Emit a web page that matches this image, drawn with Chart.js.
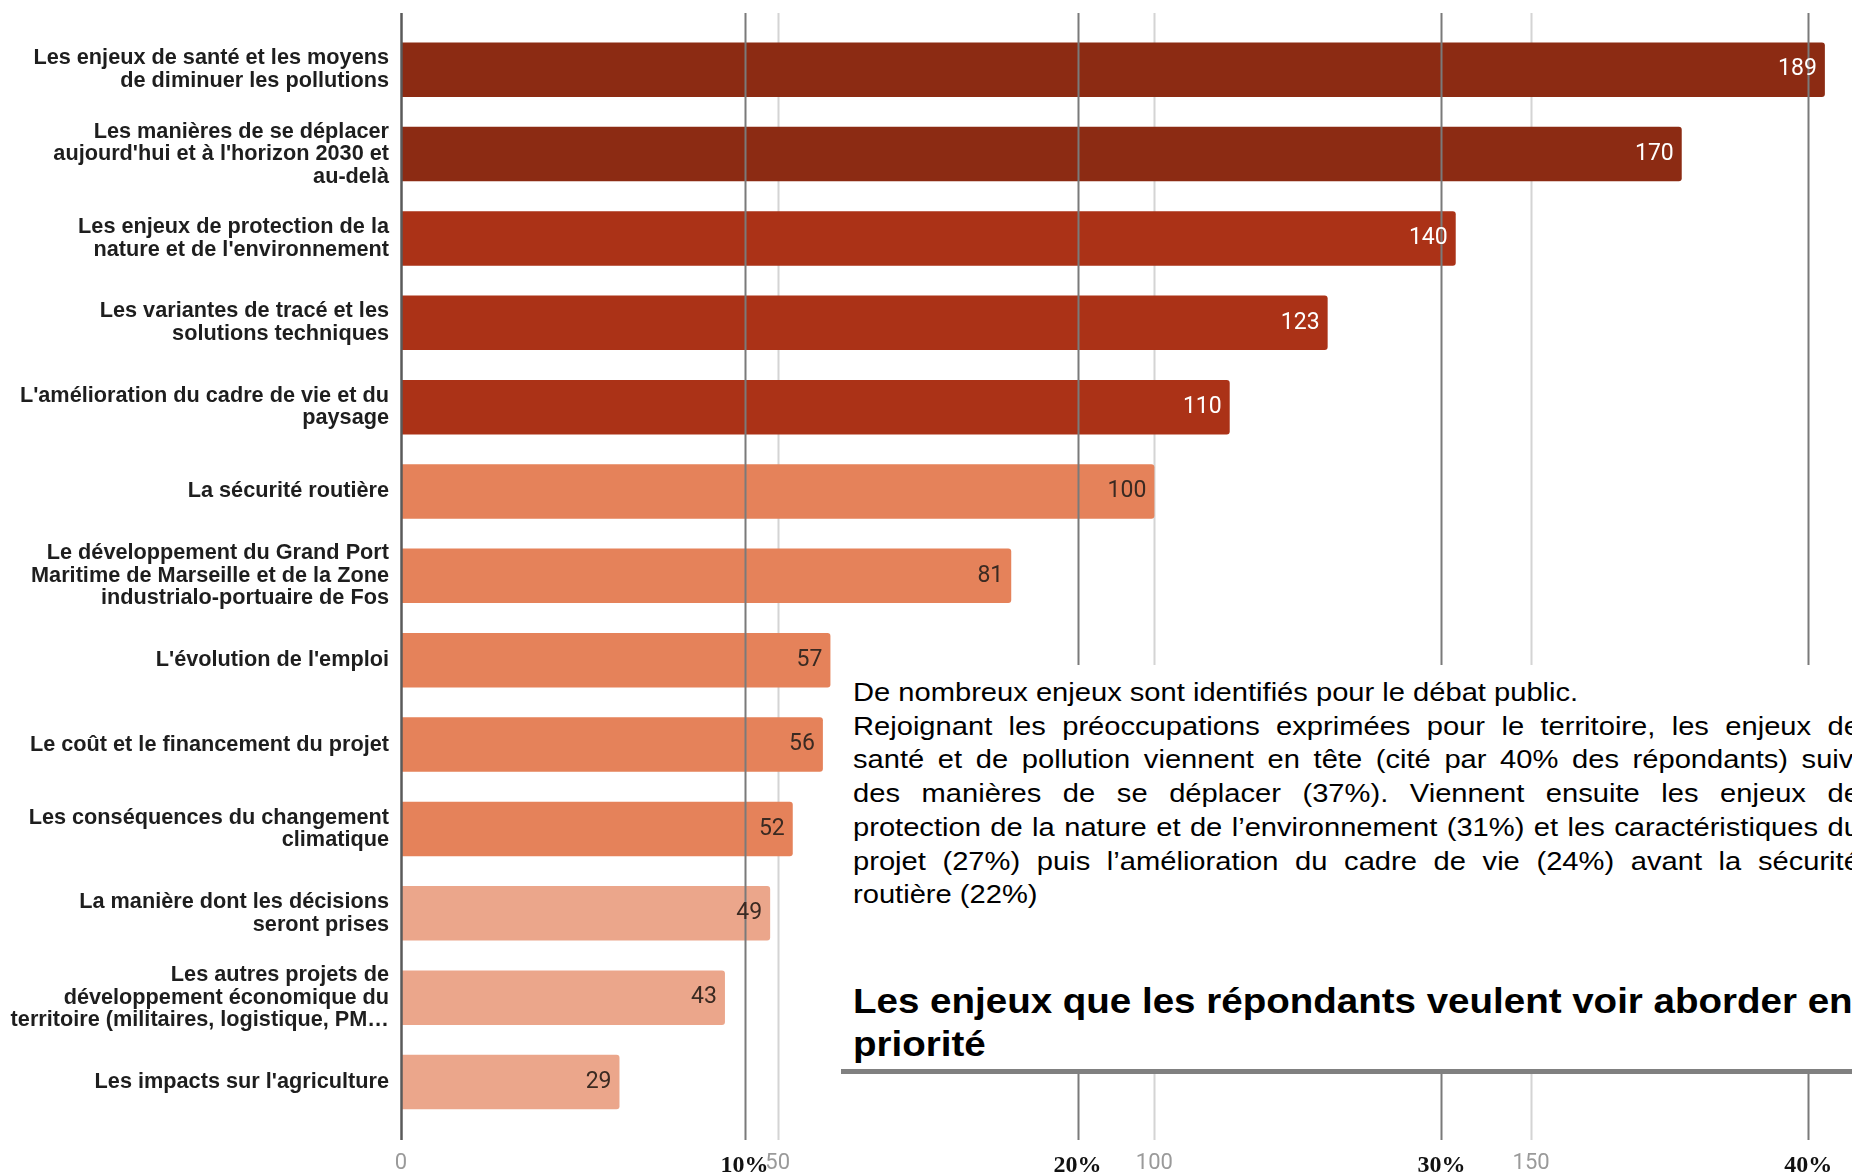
<!DOCTYPE html>
<html lang="fr">
<head>
<meta charset="utf-8">
<title>Les enjeux que les répondants veulent voir aborder en priorité</title>
<script src="https://cdn.jsdelivr.net/npm/chart.js@4.4.1/dist/chart.umd.min.js"></script>
<style>
    html, body { margin: 0; padding: 0; background: #fff; overflow: hidden; }
    #wrap { position: relative; width: 1852px; height: 1176px; }
    #chart { position: absolute; left: 0; top: 0; width: 1852px; height: 1176px; }
    .note { position: absolute; left: 841px; top: 665px; width: 1011px; height: 404px; background: #fff; overflow: hidden; }
    .note .txt { position: absolute; left: 12px; width: 899px; transform: scaleX(1.12); transform-origin: 0 0;
                 font-family: 'Liberation Sans', Arial, sans-serif; color: #000; }
    .para { top: 11px; font-size: 26px; line-height: 33.7px; }
    .para .j { text-align: justify; text-align-last: justify; }
    .head { top: 315px; font-size: 34.4px; line-height: 42.5px; font-weight: bold; }
    .rule { position: absolute; left: 841px; top: 1069px; width: 1011px; height: 5px; background: #808080; }
</style>
</head>
<body>
<div id="wrap">
    <canvas id="chart" width="1852" height="1176"></canvas>
    <div class="note">
        <div class="txt para">
            <div>De nombreux enjeux sont identifiés pour le débat public.</div>
            <div class="j">Rejoignant les préoccupations exprimées pour le territoire, les enjeux de</div>
            <div class="j">santé et de pollution viennent en tête (cité par 40% des répondants) suivi</div>
            <div class="j">des manières de se déplacer (37%). Viennent ensuite les enjeux de</div>
            <div class="j">protection de la nature et de l’environnement (31%) et les caractéristiques du</div>
            <div class="j">projet (27%) puis l’amélioration du cadre de vie (24%) avant la sécurité</div>
            <div>routière (22%)</div>
        </div>
        <div class="txt head">Les enjeux que les répondants veulent voir aborder en<br>priorité</div>
    </div>
    <div class="rule"></div>
</div>
<script>
    // data
    var categories = [
        ['Les enjeux de santé et les moyens', 'de diminuer les pollutions'],
        ['Les manières de se déplacer', "aujourd'hui et à l'horizon 2030 et", 'au-delà'],
        ['Les enjeux de protection de la', "nature et de l'environnement"],
        ['Les variantes de tracé et les', 'solutions techniques'],
        ["L'amélioration du cadre de vie et du", 'paysage'],
        ['La sécurité routière'],
        ['Le développement du Grand Port', 'Maritime de Marseille et de la Zone', 'industrialo-portuaire de Fos'],
        ["L'évolution de l'emploi"],
        ['Le coût et le financement du projet'],
        ['Les conséquences du changement', 'climatique'],
        ['La manière dont les décisions', 'seront prises'],
        ['Les autres projets de', 'développement économique du', 'territoire (militaires, logistique, PM…'],
        ["Les impacts sur l'agriculture"]
    ];
    var counts = [189, 170, 140, 123, 110, 100, 81, 57, 56, 52, 49, 43, 29];
    var countTicks = [0, 50, 100, 150];
    var countMax = 192.6;
    // the percentage axis of the page behind the chart, placed on the count scale
    var percentLabels = ['10%', '20%', '30%', '40%'];
    var percentAt = [45.6, 89.8, 138.1, 186.8];

    var barColors = ['#8c2b13', '#8c2b13', '#ab3217', '#ab3217', '#ab3217',
        '#e5825a', '#e5825a', '#e5825a', '#e5825a', '#e5825a',
        '#eba68b', '#eba68b', '#eba68b'];
    var labelColors = ['#fff', '#fff', '#fff', '#fff', '#fff',
        '#3a2a22', '#3a2a22', '#3a2a22', '#3a2a22', '#3a2a22',
        '#3a2a22', '#3a2a22', '#3a2a22'];

    var LINE_TOP = 13, LINE_BOTTOM = 1140;

    function vline(ctx, x, color, width) {
        ctx.strokeStyle = color;
        ctx.lineWidth = width;
        ctx.beginPath();
        ctx.moveTo(x, LINE_TOP);
        ctx.lineTo(x, LINE_BOTTOM);
        ctx.stroke();
    }

    var refLines = {
        id: 'refLines',
        beforeDatasetsDraw: function (chart) {
            var ctx = chart.ctx, xs = chart.scales.x;
            ctx.save();
            countTicks.forEach(function (v) {
                if (v > 0) vline(ctx, Math.round(xs.getPixelForValue(v)) + 0.5, '#d4d4d4', 2);
            });
            ctx.restore();
        },
        afterDatasetsDraw: function (chart) {
            var ctx = chart.ctx, xs = chart.scales.x;
            ctx.save();
            vline(ctx, Math.round(xs.getPixelForValue(0)) + 0.5, '#5a5a5a', 2.5);
            percentAt.forEach(function (v) {
                vline(ctx, Math.round(xs.getPixelForValue(v)) + 0.5, '#7a7a7a', 2);
            });

            // values at the end of each bar
            var meta = chart.getDatasetMeta(0);
            ctx.font = '23px Roboto, "Liberation Sans", sans-serif';
            ctx.textAlign = 'right';
            ctx.textBaseline = 'middle';
            meta.data.forEach(function (bar, i) {
                ctx.fillStyle = labelColors[i];
                ctx.fillText(String(counts[i]), bar.x - 8, bar.y);
            });

            // percentage tick labels
            ctx.font = 'bold 24px "Liberation Serif", "DejaVu Serif", serif';
            ctx.textAlign = 'center';
            ctx.fillStyle = '#111';
            percentLabels.forEach(function (t, i) {
                ctx.fillText(t, xs.getPixelForValue(percentAt[i]), 1166);
            });
            ctx.restore();
        }
    };

    var ctx = document.getElementById('chart');
    var chart = new Chart(ctx, {
        type: 'bar',
        data: {
            labels: categories,
            datasets: [{
                data: counts,
                backgroundColor: barColors,
                borderRadius: 3,
                borderSkipped: 'start',
                categoryPercentage: 1,
                barPercentage: 0.646
            }]
        },
        options: {
            indexAxis: 'y',
            responsive: false,
            maintainAspectRatio: false,
            animation: false,
            devicePixelRatio: 1,
            layout: { padding: { top: 27.5, right: 0, bottom: 0, left: 0 } },
            plugins: {
                legend: { display: false },
                tooltip: { enabled: false }
            },
            scales: {
                x: {
                    min: 0,
                    max: countMax,
                    afterBuildTicks: function (scale) {
                        scale.ticks = countTicks.map(function (v) { return { value: v }; });
                    },
                    afterFit: function (scale) { scale.height = 51.8; },
                    grid: { display: false, drawTicks: false },
                    border: { display: false },
                    ticks: {
                        padding: 26,
                        maxRotation: 0,
                        color: '#9a9a9a',
                        font: { family: 'Roboto', size: 22 }
                    }
                },
                y: {
                    afterFit: function (scale) { scale.width = 401; },
                    grid: { display: false, drawTicks: false },
                    border: { display: false },
                    ticks: {
                        padding: 12,
                        autoSkip: false,
                        color: '#1e1e1e',
                        font: { family: 'Liberation Sans', weight: 'bold', size: 21.7, lineHeight: 1.037 }
                    }
                }
            }
        },
        plugins: [refLines]
    });
</script>
</body>
</html>
